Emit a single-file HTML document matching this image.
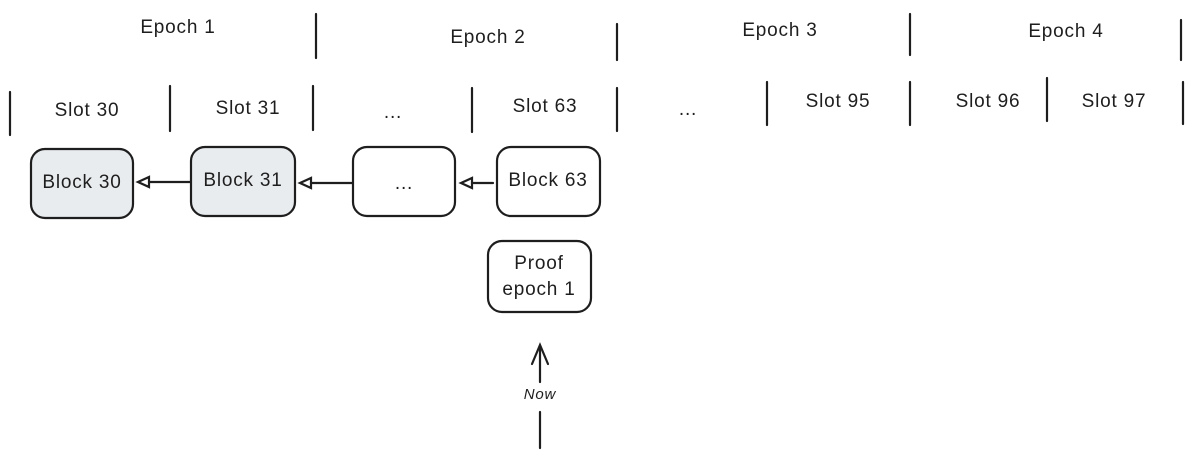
<!DOCTYPE html>
<html><head><meta charset="utf-8"><style>
html,body{margin:0;padding:0;background:#fff;}
svg{display:block}
text{font-family:"Liberation Sans",sans-serif;font-size:19px;letter-spacing:0.8px;fill:#1e1e1e;text-anchor:middle;dominant-baseline:middle}
</style></head><body>
<svg width="1195" height="458" viewBox="0 0 1195 458" xmlns="http://www.w3.org/2000/svg">
<g stroke="#1e1e1e" stroke-width="2.2" stroke-linecap="round" fill="none">
<line x1="316" y1="14" x2="316" y2="58"/>
<line x1="617" y1="24" x2="617" y2="60"/>
<line x1="910" y1="14" x2="910" y2="55"/>
<line x1="1181" y1="20" x2="1181" y2="60"/>
<line x1="10" y1="92" x2="10" y2="135"/>
<line x1="170" y1="86" x2="170" y2="131"/>
<line x1="313" y1="86" x2="313" y2="130"/>
<line x1="472" y1="88" x2="472" y2="132"/>
<line x1="617" y1="88" x2="617" y2="131"/>
<line x1="767" y1="82" x2="767" y2="125"/>
<line x1="910" y1="82" x2="910" y2="125"/>
<line x1="1047" y1="78" x2="1047" y2="121"/>
<line x1="1183" y1="82" x2="1183" y2="124"/>
<rect x="31" y="149" width="102" height="69" rx="14" fill="#e9ecef"/>
<rect x="191" y="147" width="104" height="69" rx="14" fill="#e9ecef"/>
<rect x="353" y="147" width="102" height="69" rx="14"/>
<rect x="497" y="147" width="103" height="69" rx="14"/>
<rect x="488" y="241" width="103" height="71" rx="14"/>
<line x1="190" y1="182" x2="149" y2="182"/>
<polygon points="138,182 149,177 149,187"/>
<line x1="352" y1="183" x2="311" y2="183"/>
<polygon points="300,183 311,178 311,188"/>
<line x1="493" y1="183" x2="472" y2="183"/>
<polygon points="461,183 472,178 472,188"/>
<line x1="540" y1="448" x2="540" y2="412"/>
<line x1="540" y1="382" x2="540" y2="346"/>
<polyline points="532,364 540,345 548,364"/>
</g>
<text x="178" y="28">Epoch 1</text>
<text x="488" y="38">Epoch 2</text>
<text x="780" y="31">Epoch 3</text>
<text x="1066" y="32">Epoch 4</text>
<text x="87" y="111">Slot 30</text>
<text x="248" y="109">Slot 31</text>
<text x="393" y="113">...</text>
<text x="545" y="107">Slot 63</text>
<text x="688" y="110">...</text>
<text x="838" y="102">Slot 95</text>
<text x="988" y="102">Slot 96</text>
<text x="1114" y="102">Slot 97</text>
<text x="82" y="183">Block 30</text>
<text x="243" y="181">Block 31</text>
<text x="404" y="184">...</text>
<text x="548" y="181">Block 63</text>
<text x="539" y="264">Proof</text>
<text x="539" y="290">epoch 1</text>
<text x="540" y="395" style="font-size:15px;font-style:italic">Now</text>
</svg>
</body></html>
